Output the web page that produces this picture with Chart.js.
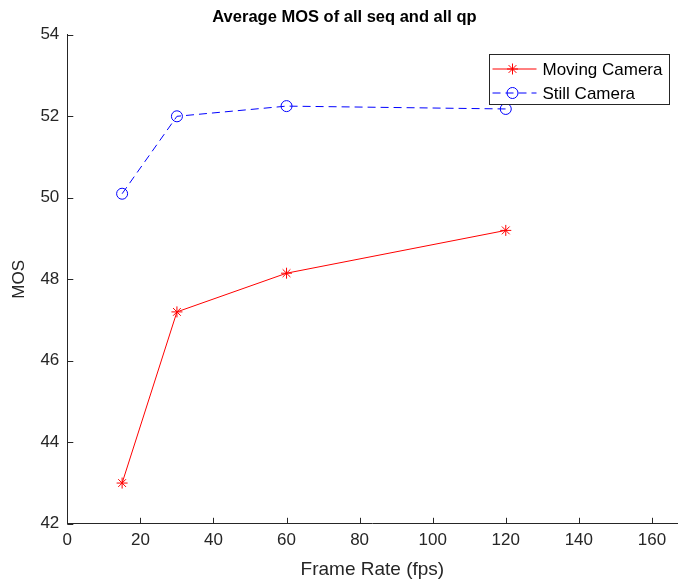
<!DOCTYPE html>
<html>
<head>
<meta charset="utf-8">
<script src="https://cdn.jsdelivr.net/npm/chart.js@4"></script>
<style>
  html, body { margin: 0; padding: 0; background: #fff; overflow: hidden; }
  #wrap { width: 684px; height: 587px; }
</style>
</head>
<body>
<div id="wrap"><canvas id="chart"></canvas></div>
<script>
// Dados
const frameRates = [15, 30, 60, 120];
const movingCamera = [43.0, 47.2, 48.15, 49.2];
const stillCamera = [50.1, 52.0, 52.25, 52.18];
const xTicks = [0, 20, 40, 60, 80, 100, 120, 140, 160];
const yTicks = [42, 44, 46, 48, 50, 52, 54];

const axisColor = '#262626';
const fontFamily = '"Liberation Sans", Arial, sans-serif';

// Marcas de escala para dentro (estilo MATLAB) e legenda dentro do gráfico
const matlabAxes = {
  id: 'matlabAxes',
  afterDraw(chart) {
    const ctx = chart.ctx;
    const x = chart.scales.x;
    const y = chart.scales.y;
    const area = chart.chartArea;
    ctx.save();
    ctx.strokeStyle = axisColor;
    ctx.lineWidth = 1;
    ctx.beginPath();
    xTicks.forEach(v => {
      const px = Math.round(x.getPixelForValue(v)) + 0.5;
      ctx.moveTo(px, area.bottom);
      ctx.lineTo(px, area.bottom - 6);
    });
    yTicks.forEach(v => {
      const py = Math.round(y.getPixelForValue(v)) + 0.5;
      ctx.moveTo(area.left, py);
      ctx.lineTo(area.left + 6, py);
    });
    ctx.stroke();

    // Legenda
    const lx = 489.5, ly = 54.5, lw = 180, lh = 50;
    ctx.fillStyle = '#fff';
    ctx.fillRect(lx, ly, lw, lh);
    ctx.strokeStyle = '#262626';
    ctx.strokeRect(lx, ly, lw, lh);
    ctx.font = '17px ' + fontFamily;
    ctx.textBaseline = 'middle';
    chart.data.datasets.forEach((ds, i) => {
      const cy = ly + 14.5 + i * 24;
      ctx.strokeStyle = ds.borderColor;
      ctx.lineWidth = 1;
      ctx.setLineDash(ds.borderDash || []);
      ctx.beginPath();
      ctx.moveTo(lx + 3, cy);
      ctx.lineTo(lx + 47, cy);
      ctx.stroke();
      ctx.setLineDash([]);
      ctx.fillStyle = 'rgba(0,0,0,0)';
      Chart.helpers.drawPoint(ctx, {
        pointStyle: ds.pointStyle,
        radius: ds.pointRadius,
        borderWidth: 1,
        rotation: 0
      }, lx + 23, cy);
      ctx.fillStyle = '#000';
      ctx.fillText(ds.label, lx + 53, cy + 1);
    });
    ctx.restore();
  }
};

const ctx = document.getElementById('chart').getContext('2d');
new Chart(ctx, {
  type: 'line',
  data: {
    datasets: [
      {
        label: 'Moving Camera',
        data: frameRates.map((f, i) => ({ x: f, y: movingCamera[i] })),
        borderColor: '#ff0000',
        backgroundColor: 'rgba(0,0,0,0)',
        borderWidth: 1,
        pointStyle: 'star',
        pointRadius: 5.5,
        pointBorderWidth: 1,
        tension: 0
      },
      {
        label: 'Still Camera',
        data: frameRates.map((f, i) => ({ x: f, y: stillCamera[i] })),
        borderColor: '#0000ff',
        backgroundColor: 'rgba(0,0,0,0)',
        borderWidth: 1,
        borderDash: [8, 5],
        pointStyle: 'circle',
        pointRadius: 5.5,
        pointBorderWidth: 1,
        tension: 0
      }
    ]
  },
  options: {
    responsive: true,
    maintainAspectRatio: false,
    animation: false,
    layout: { padding: { left: 5, right: 0, top: 0, bottom: 2 } },
    plugins: {
      legend: { display: false },
      tooltip: { enabled: false },
      title: {
        display: true,
        text: 'Average MOS of all seq and all qp',
        color: '#000',
        font: { family: fontFamily, size: 16.5, weight: 'bold' },
        padding: { top: 8, bottom: 7 }
      }
    },
    scales: {
      x: {
        type: 'linear',
        min: 0,
        max: 167,
        afterBuildTicks: scale => { scale.ticks = xTicks.map(v => ({ value: v })); },
        grid: { display: false, drawTicks: false },
        border: { color: axisColor, width: 1 },
        ticks: {
          color: axisColor,
          padding: 6,
          maxRotation: 0,
          font: { family: fontFamily, size: 17 }
        },
        title: {
          display: true,
          text: 'Frame Rate (fps)',
          color: axisColor,
          font: { family: fontFamily, size: 19 },
          padding: { top: 2, bottom: 4 }
        }
      },
      y: {
        type: 'linear',
        min: 42,
        max: 54,
        afterBuildTicks: scale => { scale.ticks = yTicks.map(v => ({ value: v })); },
        grid: { display: false, drawTicks: false },
        border: { color: axisColor, width: 1 },
        ticks: {
          color: axisColor,
          padding: 8,
          font: { family: fontFamily, size: 17 }
        },
        title: {
          display: true,
          text: 'MOS',
          color: axisColor,
          font: { family: fontFamily, size: 17 },
          padding: { top: 4, bottom: 3 }
        }
      }
    }
  },
  plugins: [matlabAxes]
});
</script>
</body>
</html>
